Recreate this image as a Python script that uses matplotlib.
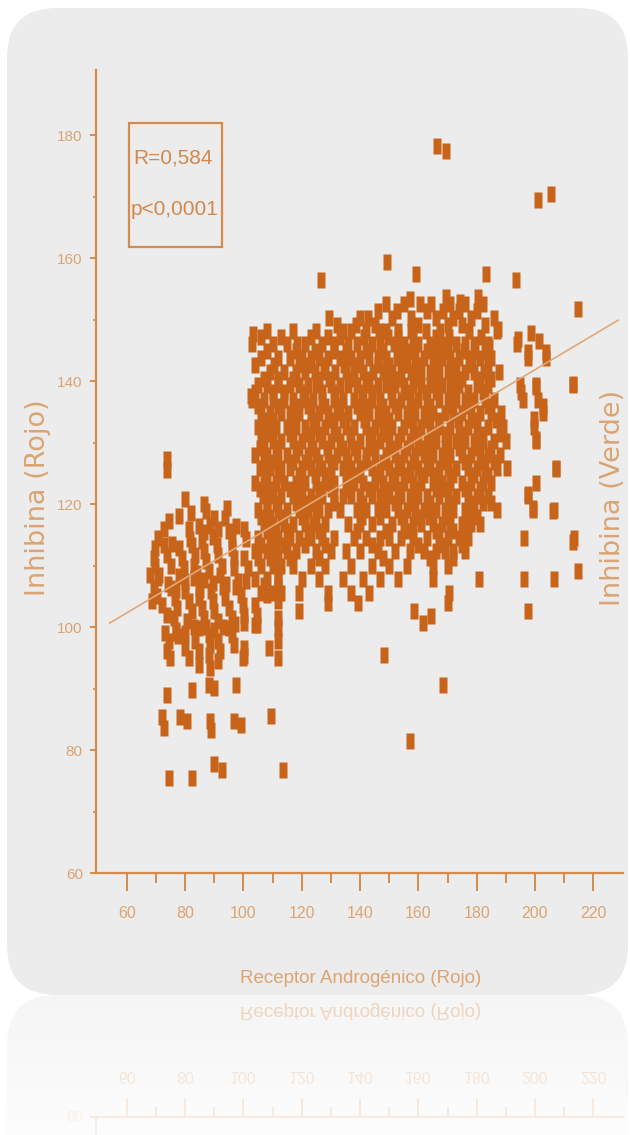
import numpy as np
import matplotlib
matplotlib.use('Agg')
import matplotlib.pyplot as plt
from matplotlib.patches import FancyBboxPatch, Rectangle
from matplotlib.path import Path
from matplotlib.transforms import IdentityTransform

W, H = 630, 1135
MARK = '#c8641a'
AXIS = '#d68b4e'
LABEL = '#dba472'
PANEL = '#ececec'
SANS = ['Liberation Sans', 'DejaVu Sans']

# left group (androgen receptor ~65-105)
left_x = [73.6, 73.6, 79.8, 86.6, 87.3, 94.2, 93.5, 74.3, 72.6, 78, 81.2, 81.5, 84.6, 86.6,
          90, 91.4, 89.7, 94.9, 95.9, 100.3, 101, 69.5, 69.2, 69.5, 72.6, 73.6, 75.3,
          78, 78.8, 79.5, 78, 82.2, 83.2, 82.9, 85.6, 86.3, 87.3, 88, 86.6,
          90.8, 91.4, 92.5, 91.8, 95.9, 96.9, 96.6, 100.3, 101.7,
          69.2, 70.2, 71.9, 73.6, 75.3, 76.4, 77.1, 76, 79.8, 81.2, 82.2, 80.5,
          84.6, 84.9, 85.6, 86.3, 84.6, 89, 89.7, 90, 91.4, 93.5, 94.9, 95.9, 95.2,
          99.3, 100, 100.3, 103.8, 104.5, 103.8,
          74.3, 73.6, 74.7, 79.8, 81.2, 83.2, 84.6, 84.9, 88, 88.4, 88, 88.4,
          91.4, 91.8, 91.4, 95.9, 96.9, 100.3, 100,
          73.6, 82.2, 88, 90, 97.6, 71.9, 72.6, 78.1, 80.5, 88.4, 89, 96.6, 99.3,
          74.3, 82.5, 90, 92.5, 67.8, 68.5, 70.8, 76.8, 98, 93, 84, 77.5,
          71, 74, 77, 80, 83, 85, 89.5, 94, 97.5, 101, 73, 77, 80, 83, 87, 90, 93, 97,
          75.5, 82, 88.5, 97.5, 70.5]
left_y = [127.4, 125.6, 120.9, 120, 118.9, 119.3, 117.7, 117.3, 116, 118, 116, 114.4, 116.5, 115.5,
          117.7, 116, 114.7, 115.7, 114.4, 116, 114.4, 112.8, 111.2, 109.9, 113.3, 111.7, 110,
          112.8, 111.2, 109.6, 108.3, 113.3, 111.7, 110, 114, 112.3, 110.7, 109.1, 107.6,
          113.3, 111.7, 110, 108.4, 112.8, 111.2, 109.6, 111.2, 109.6,
          106.3, 105, 103.6, 101.9, 106.3, 104.7, 103.1, 101.5, 105.8, 104.2, 102.6, 101,
          106.3, 104.7, 103.1, 101.5, 99.8, 105.8, 104.2, 102.6, 101, 104.7, 103.1, 101.5, 99.8,
          105.2, 103.6, 101.9, 103.6, 101.9, 100.3,
          97.7, 96.1, 95, 96.6, 95, 97.7, 96.1, 93.8, 98.7, 97.1, 95.5, 93.4,
          97.7, 96.1, 94.5, 98.7, 97.1, 96.6, 95,
          89, 89.7, 90.6, 90.1, 90.6, 85.3, 83.6, 85.3, 84.8, 84.8, 83.3, 84.8, 84,
          75.5, 75.5, 77.7, 76.7, 108.5, 104.2, 108, 99, 107.5, 106.5, 108.8, 98.5,
          108.5, 107, 106, 107.5, 108, 106, 107.2, 107, 106.5, 107.5, 99, 99.5, 99, 100, 100,
          99.5, 100, 100.5, 113.5, 118.5, 116.5, 116.5, 114.5]

# main dense group, one row of x values per y level
dense_levels = [152.5, 150.3, 148.2, 146, 143.7, 141.5, 139.3, 137, 134.8, 132.5, 130.3,
                128, 125.8, 123.5, 121.3, 119, 116.8, 114.5, 112.3, 110, 107.8, 105.5]
dense_cols = [
    [149, 155, 160.5, 164.5, 171, 176, 182],
    [129.5, 140, 142.6, 151, 157.5, 166, 172, 178, 186],
    [108, 117, 125, 134, 137, 142, 146.5, 149, 153, 157.5, 162.5, 167.5, 177.5, 187],
    [103, 110, 115, 118.5, 121, 127, 131, 136, 139, 144, 147, 151.5, 155, 160, 164, 168,
     173, 176, 179, 184, 194],
    [106, 112, 116, 120, 123, 126, 129, 133, 137, 140, 143, 146, 149, 152.5, 156, 159, 162,
     165, 168, 171, 174, 177.5, 181, 185, 197.5, 203.8],
    [109, 114, 118, 121, 124.5, 128, 131.5, 135, 138, 141, 144.5, 148, 151, 154, 157.5, 161,
     164, 167, 170, 173, 176, 179, 182.5, 187.5],
    [105, 108, 112, 116, 119, 122, 125, 130, 133, 136, 139, 142, 146, 149, 152, 155, 158,
     161, 164, 168, 171, 174, 180, 184, 195, 200.3, 213],
    [103, 107, 110, 114, 117, 120.5, 124, 127, 131, 134, 138, 141, 144, 147, 151, 154, 157,
     160, 163, 167, 170, 173, 176, 179, 183, 186, 196, 201],
    [106, 109, 113, 116, 119, 123, 126, 129, 132, 136, 140, 143, 146, 149, 153, 156, 159,
     162, 165, 169, 172, 175, 178, 181, 185, 188.5, 202.7],
    [105, 108, 111, 115, 118, 121, 125, 128, 131, 135, 138, 142, 145, 148, 151, 155, 158,
     161, 164, 167, 171, 174, 177, 180, 184, 189, 199.7],
    [107, 110, 113, 117, 120, 123, 127, 130, 133, 137, 140, 143, 147, 150, 153, 157, 160,
     163, 166, 170, 173, 176, 179, 182, 186, 190, 200.3],
    [104, 108, 112, 115, 118, 122, 125, 129, 132, 135, 139, 142, 145, 149, 152, 155, 159,
     162, 165, 168, 171, 175, 178, 181, 184, 188],
    [105.5, 109, 113, 116, 120, 123, 127, 130, 134, 137, 140, 144, 147, 150, 154, 157, 160,
     164, 167, 170, 173, 177, 180, 183, 187, 190.5, 207.2],
    [104, 107, 111, 114, 118, 121, 125, 128, 131, 135, 138, 141, 145, 148, 151, 155, 158,
     161, 165, 168, 171, 175, 178, 182, 185, 200.3],
    [106.8, 110, 113, 117, 120, 123, 127, 131, 134, 137, 140, 144, 147, 150, 154, 157, 160,
     163, 167, 170, 173, 177, 180, 184, 197.6],
    [105, 108, 112, 115, 119, 122, 126, 129, 133, 139, 142, 146, 149, 153, 156, 159, 162,
     166, 169, 172, 176, 179, 187, 199.3, 206.5],
    [107, 110, 114, 117, 121, 124, 128, 136, 140, 144, 151, 155, 158, 161, 165, 168, 171,
     175, 178, 181],
    [105, 109, 112, 116, 119, 123, 127, 131, 138, 142, 147, 150, 154, 158, 163, 167, 170,
     174, 177, 196.2, 213.4],
    [104, 108, 111, 115, 118, 125, 130, 135, 140, 146, 152, 157, 162, 166, 169, 172, 176],
    [106, 110, 113, 117, 123, 128, 137, 144, 150, 156, 165, 170],
    [104, 108, 112, 120, 126, 134, 141, 147, 153, 165, 180.8, 196.2, 206.5],
    [106, 110, 113, 119, 129, 137, 143, 170.5],
]

# points lying between the rows above
fill_levels = [151.4, 149.2, 147.1, 144.9, 142.6, 140.4, 138.2, 135.9, 133.7, 131.4, 129.2,
               126.9, 124.7, 122.4, 120.2, 117.9, 115.7, 113.4, 111.2]
fill_cols = [
    [146, 152.5, 163, 168.5, 174, 180],
    [132, 138.5, 145, 160, 170, 175, 183],
    [106, 113, 123, 129, 133, 141.5, 149.5, 153, 158, 166, 170.5, 181.5],
    [108, 118, 124.5, 131, 135, 142, 148, 154, 157.5, 163, 166.5, 170, 175.5, 179.5, 183],
    [104, 110.5, 119, 122, 127.5, 134.5, 139, 146, 150, 155, 160, 166, 172, 178.5, 184],
    [107, 112, 117, 126, 129.5, 137, 143, 149.5, 153, 159.5, 166, 172, 175, 181, 185],
    [104, 110, 114, 121, 127, 131.5, 140.5, 144, 150.5, 156.5, 162.5, 166, 172.5, 177, 182],
    [105, 112, 118, 122, 128, 133, 139, 142, 148, 152, 158, 164, 171, 177, 184],
    [107, 110, 117, 124, 130, 134, 141.5, 147, 150, 157, 163, 167, 173.5, 179, 186.5],
    [106, 109, 116, 122.5, 126, 132, 136.5, 144, 149, 154, 159, 165.5, 169, 175, 181.5, 188],
    [105.5, 111, 119, 124, 128.5, 134, 138, 144.5, 151, 156, 161, 164, 169, 174, 180, 185],
    [107, 110.5, 117, 121, 126, 131, 136, 142, 148, 153, 158, 163, 169, 176, 182, 186],
    [108, 112, 119, 124.5, 129, 136, 139, 146, 152, 156, 162, 166, 172, 179, 184],
    [105.5, 109, 116, 119.5, 126, 130, 136.5, 143, 149, 153, 159, 166, 169, 176, 181],
    [108, 111, 118, 121, 124.5, 131, 141, 148, 152, 158, 164, 171, 178, 182, 185],
    [106, 109, 113, 120, 125, 140.5, 147, 154, 160, 163.5, 170, 177, 180],
    [108, 111, 115, 122, 126, 139, 149, 156.5, 166, 172, 176],
    [106, 110, 114, 121, 128, 144, 160, 168, 175],
    [105, 109, 116, 126, 148, 164, 172],
]

# isolated points
out_x = [166.3, 169.5, 201.1, 205.5, 126.7, 149.3, 159.2, 183.2, 193.5, 157.2, 169.5, 174.3,
         180.5, 214.7, 103.4, 102.7, 194.2, 197.6, 198.6, 201.4, 203.8, 195.2, 200.3, 202.7,
         199.7, 200.3, 197.6, 199.3, 206.2, 184.2, 187.3, 213, 214.7, 213, 207.2,
         100.3, 108.6, 112, 112, 104.5, 100.3, 119.2, 129.1, 139.4, 148.3, 168.5, 157.2,
         113.7, 109.6, 197.6, 161.6, 158.6, 164.4, 170.2, 107.2, 107.9, 112, 112, 112,
         112, 112, 112, 112]
out_y = [178.3, 177.4, 169.4, 170.4, 156.4, 159.4, 157.5, 157.5, 156.5, 153.3, 153.6, 152.8,
         153.6, 151.7, 147.6, 137.6, 146.8, 144.7, 147.9, 146.5, 144.7, 138.2, 139, 136,
         133.8, 130.6, 121.7, 119.3, 118.8, 145.5, 148.4, 139.5, 109.1, 113.9, 125.7,
         95.3, 96.6, 95, 97.7, 100.3, 100.6, 102.6, 103.9, 103.9, 95.5, 90.6, 81.5,
         76.7, 85.6, 102.6, 100.6, 102.6, 101.8, 103.9, 106.8, 105.2, 111.7, 110, 107.9,
         106.3, 104.2, 101.5, 99.8]

# fitted line end points
fit_x = [54.1, 228.5]
fit_y = [100.65, 149.9]

stats_text = ['R=0,584', 'p<0,0001']

fig = plt.figure(figsize=(W / 100, H / 100), dpi=100)
fig.patch.set_facecolor('white')

panel = FancyBboxPatch((7, H - 995), 621, 987, boxstyle='round,pad=0,rounding_size=50',
                       transform=IdentityTransform(), fc=PANEL, ec='none', zorder=-5)
fig.patches.append(panel)

ax = fig.add_axes([96 / W, 1 - 873 / H, 527 / W, 803 / H])
ax.set_zorder(2)
ax.set_facecolor('none')
ax.set_xlim(49.4, 230.2)
ax.set_ylim(60, 190.6)

rect = Path([(-0.28, -0.5), (0.28, -0.5), (0.28, 0.5), (-0.28, 0.5), (-0.28, -0.5)],
            [Path.MOVETO, Path.LINETO, Path.LINETO, Path.LINETO, Path.CLOSEPOLY])


def flatten(levels, cols):
    xs = [x for row in cols for x in row]
    ys = [lv for lv, row in zip(levels, cols) for _ in row]
    return xs, ys


dense_x, dense_y = flatten(dense_levels, dense_cols)
fill_x, fill_y = flatten(fill_levels, fill_cols)
all_x = left_x + dense_x + fill_x + out_x
all_y = left_y + dense_y + fill_y + out_y
ax.plot(all_x, all_y, ls='none', marker=rect, ms=11, mfc=MARK, mec='none', zorder=2)
ax.plot(fit_x, fit_y, color='#e2a878', lw=1.2, zorder=3)

for s in ['top', 'right']:
    ax.spines[s].set_visible(False)
for s in ['left', 'bottom']:
    ax.spines[s].set_color(AXIS)
    ax.spines[s].set_linewidth(1.6)

ax.set_xticks(np.arange(60, 221, 20))
ax.set_xticks(np.arange(70, 211, 20), minor=True)
ax.set_yticks(np.arange(60, 181, 20))
ax.set_yticks(np.arange(70, 171, 20), minor=True)
ax.tick_params(axis='x', which='major', direction='out', length=13, width=1.4,
               color=AXIS, labelcolor=LABEL, pad=11, labelsize=11.5)
ax.tick_params(axis='x', which='minor', direction='out', length=7, width=1.4, color=AXIS)
ax.tick_params(axis='y', which='major', direction='out', length=4.5, width=1.4,
               color=AXIS, labelcolor=LABEL, pad=5, labelsize=11)
ax.tick_params(axis='y', which='minor', direction='out', length=2.5, width=1.2, color=AXIS)
for lab in ax.get_xticklabels() + ax.get_yticklabels():
    lab.set_family(SANS)

ax.set_xlabel('Receptor Androgénico (Rojo)', color=LABEL, fontsize=13.5, family=SANS)
ax.xaxis.set_label_coords(0.503, -0.131)
ax.xaxis.label.set_va('center')
ax.set_ylabel('Inhibina (Rojo)', color=LABEL, fontsize=19.5, family='DejaVu Sans')
ax.yaxis.set_label_coords(-0.11, 0.468)
ax.yaxis.label.set_va('center')

fig.text(613 / W, 1 - 498 / H, 'Inhibina (Verde)', rotation=90, color=LABEL, fontsize=19.5,
         family='DejaVu Sans', ha='center', va='center')

ax.add_patch(Rectangle((0.0626, 0.7796), 0.1765, 0.1544, transform=ax.transAxes,
                       fc='none', ec=AXIS, lw=1.6, zorder=4))
ax.text(0.146, 0.890, stats_text[0], transform=ax.transAxes, ha='center', va='center',
        color='#d2884a', fontsize=15, family=SANS)
ax.text(0.150, 0.826, stats_text[1], transform=ax.transAxes, ha='center', va='center',
        color='#d2884a', fontsize=15, family=SANS)

# mirrored reflection under the panel
fig.canvas.draw()
buf = np.asarray(fig.canvas.buffer_rgba())[:, :, :3].astype(float) / 255
mirror = 995
span = H - mirror
src = buf[mirror - span:mirror][::-1]
fade = np.linspace(0.5, 0.12, span)[:, None, None]
refl = 1 - (1 - src) * fade
fig.figimage(refl, xo=0, yo=0, origin='upper', zorder=3)

fig.savefig('out.png', dpi=100)
